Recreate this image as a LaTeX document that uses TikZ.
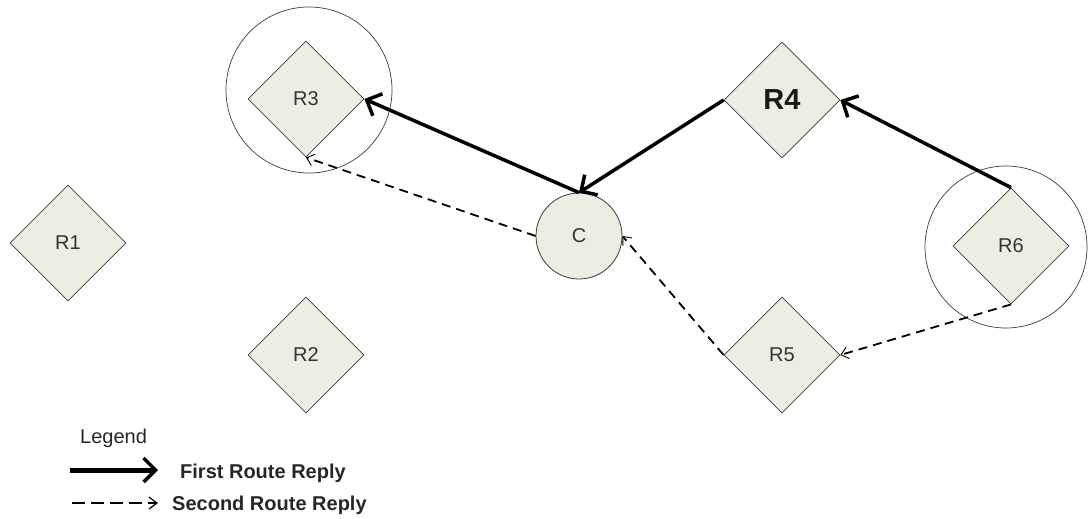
\documentclass[tikz,border=0pt]{standalone}
\usepackage{fontspec}
\setmainfont{Liberation Sans}
\usetikzlibrary{shapes.geometric,arrows.meta}
\definecolor{nodefill}{RGB}{237,237,227}
\definecolor{edgegray}{RGB}{60,60,60}
\tikzset{
  router/.style={diamond,draw=edgegray,line width=0.8pt,fill=nodefill,minimum size=116pt,inner sep=0pt,font=\fontsize{20}{22}\selectfont,text=black!80},
  client/.style={circle,draw=edgegray,line width=0.8pt,fill=nodefill,minimum size=86pt,inner sep=0pt,font=\fontsize{20}{22}\selectfont,text=black!80},
  ring/.style={circle,draw=edgegray,line width=0.7pt,inner sep=0pt},
  firstreply/.style={line width=3.5pt,-{Straight Barb[length=12pt,width=24pt,line width=3.5pt]}},
  secondreply/.style={line width=1.8pt,dash pattern=on 9pt off 6pt,-{Straight Barb[length=7pt,width=12pt,line width=0.9pt]}},
  legendtext/.style={anchor=west,inner sep=0pt,font=\bfseries\fontsize{20}{22}\selectfont,text=black!85}
}
\begin{document}
\begin{tikzpicture}[x=1pt,y=-1pt]
\useasboundingbox (0,0) rectangle (1089,519);
% rings
\node[ring,minimum size=166pt] (ring3) at (309,90) {};
\node[ring,minimum size=162pt] (ring6) at (1006,247) {};
% routers
\node[router] (R1) at (68,243) {R1};
\node[router] (R2) at (306,355) {R2};
\node[router] (R3) at (306,99) {R3};
\node[router,font=\bfseries\fontsize{29}{31}\selectfont,text=black!90] (R4) at (782,100) {R4};
\node[router] (R5) at (782,355) {R5};
\node[router] (R6) at (1011,246) {R6};
\node[client] (C) at (579,236) {C};
% first route reply
\draw[firstreply] (R6.north) -- (R4.east);
\draw[firstreply] (R4.west) -- (C.north);
\draw[firstreply] (C.north) -- (R3.east);
% second route reply
\draw[secondreply] (R6.south) -- (R5.east);
\draw[secondreply] (R5.west) -- (C.east);
\draw[secondreply] (C.west) -- (R3.south);
% legend
\node[anchor=west,inner sep=0pt,font=\fontsize{20}{22}\selectfont,text=black!85] (legend) at (80,438) {Legend};
\coordinate (l1s) at (70,470);
\coordinate (l1e) at (158,470);
\coordinate (l2s) at (72,503);
\coordinate (l2e) at (158,503);
\draw[firstreply,line width=5pt] (l1s) -- (l1e);
\draw[line width=2.8pt,dash pattern=on 13pt off 6pt,-{Straight Barb[length=8pt,width=12pt,line width=1.2pt]}] (l2s) -- (l2e);
\node[legendtext] (first) at (180,473) {First Route Reply};
\node[legendtext] (second) at (172,505) {Second Route Reply};
\end{tikzpicture}
\end{document}
